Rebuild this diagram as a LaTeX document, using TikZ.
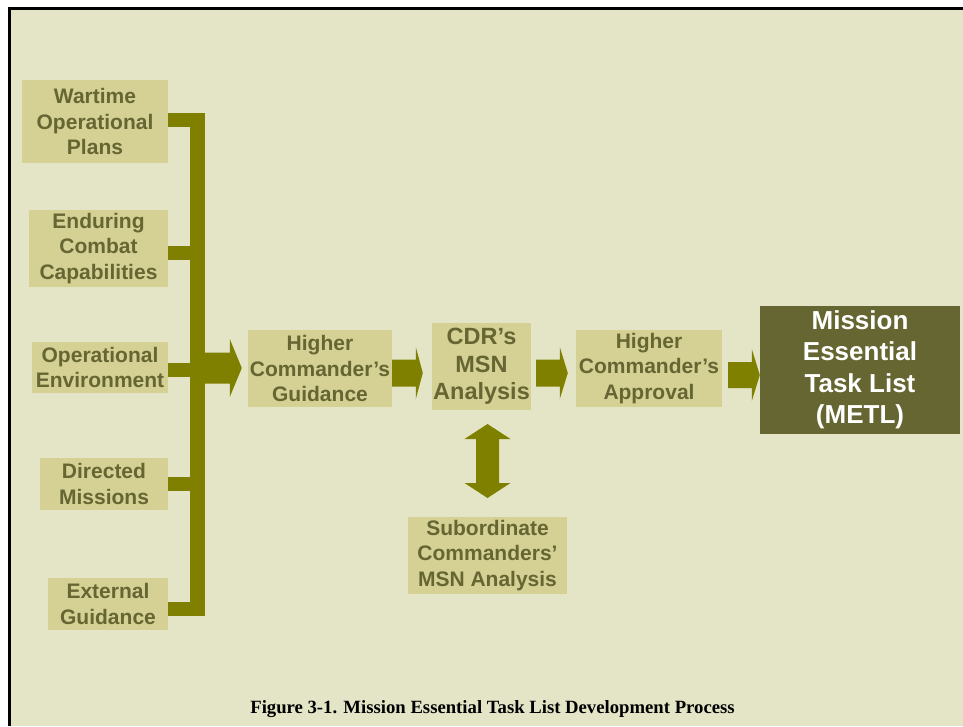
\documentclass[tikz,border=0pt]{standalone}
\usepackage{fontspec}
\setmainfont{Liberation Sans}
\newfontfamily\capfont{Liberation Serif}
\usetikzlibrary{calc}

\definecolor{pagebg}{HTML}{E3E5C6}
\definecolor{boxfill}{HTML}{D5D094}
\definecolor{boxtext}{HTML}{666633}
\definecolor{arrowolive}{HTML}{808000}
\definecolor{metlfill}{HTML}{666633}

% horizontal block arrow: start point, tip point, shaft half-width, head half-width, head length
\newcommand\fatarrow[5]{%
  \fill[arrowolive] let \p1=(#1), \p2=(#2) in
    (\x1,{\y1-#3pt}) -- ({\x2-#5pt},{\y1-#3pt}) -- ({\x2-#5pt},{\y2-#4pt}) -- (\x2,\y2)
    -- ({\x2-#5pt},{\y2+#4pt}) -- ({\x2-#5pt},{\y1+#3pt}) -- (\x1,{\y1+#3pt}) -- cycle;}

\tikzset{
  % the strut on the first line sets every text block a little lower in its box
  labelbox/.style={inner sep=0pt, align=center, execute at begin node={\rule{0pt}{0.95em}}},
  box/.style={labelbox, fill=boxfill, text=boxtext,
    font=\bfseries\fontsize{21}{25.2}\selectfont},
  bus/.style={draw=arrowolive, line width=14.5pt, line join=miter, line cap=butt},
}

\begin{document}
\begin{tikzpicture}[x=1pt,y=-1pt]
  \useasboundingbox (0,0) rectangle (963,726);
  % page frame
  \fill[white] (0,0) rectangle (963,726);
  \fill[pagebg] (11,10) rectangle (963,726);
  \draw[line width=3pt, line join=miter] (9.5,726) -- (9.5,8.5) -- (963,8.5);

  % input boxes
  \node[box, minimum width=146pt, minimum height=83pt] (wop) at (95,121.5) {Wartime\\Operational\\Plans};
  \node[box, minimum width=139pt, minimum height=77pt] (ecc) at (98.5,248.5) {Enduring\\Combat\\Capabilities};
  \node[box, minimum width=136pt, minimum height=51pt] (oe) at (100,367.5) {Operational\\Environment};
  \node[box, minimum width=128pt, minimum height=52pt] (dm) at (104,484) {Directed\\Missions};
  \node[box, minimum width=120pt, minimum height=52pt] (eg) at (108,604) {External\\Guidance};

  % process boxes
  \node[box, minimum width=144pt, minimum height=77pt] (hcg) at (320,368.5) {Higher\\Commander’s\\Guidance};
  \node[box, minimum width=99pt, minimum height=87pt,
        font=\bfseries\fontsize{23.5}{27.6}\selectfont] (cdr) at (481.5,366.5) {CDR’s\\MSN\\Analysis};
  \node[box, minimum width=146pt, minimum height=77pt] (hca) at (649,368.5) {Higher\\Commander’s\\Approval};
  \node[box, minimum width=159pt, minimum height=77pt] (sub) at (487.5,555.5) {Subordinate\\Commanders’\\MSN Analysis};
  \node[labelbox, fill=metlfill, text=white,
        font=\bfseries\fontsize{26}{31.5}\selectfont,
        minimum width=200pt, minimum height=128pt] (metl) at (860,370) {Mission\\Essential\\Task List\\(METL)};

  % collecting bus
  \coordinate (bustop) at (197.5,120);
  \coordinate (busbot) at (197.5,609);
  \draw[bus] (wop.east |- bustop) -- (bustop) -- (busbot) -- (eg.east |- busbot);
  \draw[bus] (ecc.east |- 0,253) -- (bustop |- 0,253);
  \draw[bus] (oe.east |- 0,370) -- (bustop |- 0,370);
  \draw[bus] (dm.east |- 0,484) -- (bustop |- 0,484);

  % block arrows along the flow
  \fatarrow{bustop |- 0,368}{$(hcg.west |- 0,368)+(-6,0)$}{15.5}{29}{12}
  \fatarrow{hcg.east |- 0,373}{$(cdr.west |- 0,373)+(-9,0)$}{13.5}{26}{7}
  \fatarrow{$(cdr.east |- 0,373)+(5,0)$}{$(hca.west |- 0,373)+(-8,0)$}{13.5}{26}{8}
  \fatarrow{$(hca.east |- 0,375)+(6,0)$}{metl.west |- 0,375}{13}{26}{8}

  % two-way arrow between CDR analysis and subordinate analysis
  \coordinate (dtop) at (sub.north |- 0,424);
  \coordinate (dbot) at (sub.north |- 0,498);
  \fill[arrowolive] let \p1=(dtop), \p2=(dbot) in
    (dtop) -- ({\x1+23pt},{\y1-15pt}) -- ({\x1+11.5pt},{\y1-15pt}) -- ({\x1+11.5pt},{\y2+15pt})
    -- ({\x1+23pt},{\y2+15pt}) -- (dbot) -- ({\x1-23pt},{\y2+15pt}) -- ({\x1-11.5pt},{\y2+15pt})
    -- ({\x1-11.5pt},{\y1-15pt}) -- ({\x1-23pt},{\y1-15pt}) -- cycle;

  % caption
  \node[anchor=base, font=\capfont\bfseries\fontsize{18.7}{22}\selectfont] (caption) at (492.5,713)
    {Figure 3-1. Mission Essential Task List Development Process};
\end{tikzpicture}
\end{document}
